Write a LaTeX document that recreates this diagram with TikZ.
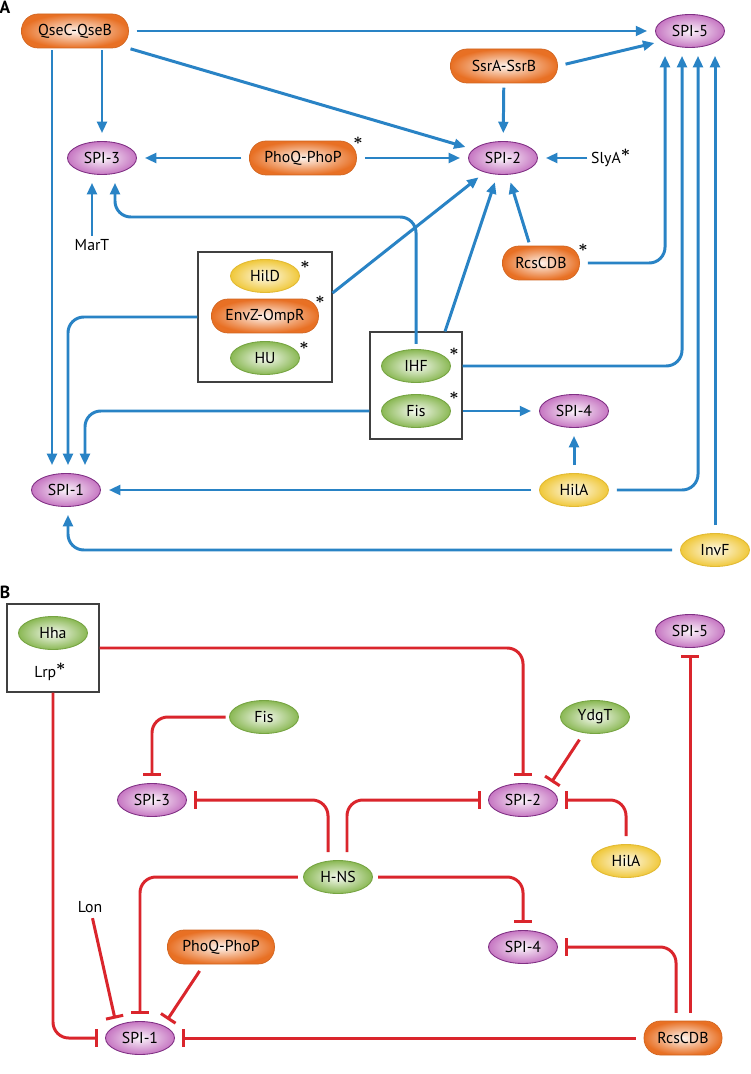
\documentclass[tikz,border=0pt]{standalone}
\usepackage{fontspec}
\setmainfont{PT Sans}
\usepackage{amsmath,xcolor}
\definecolor{slblue}{RGB}{41,131,197}
\definecolor{slred}{RGB}{218,37,44}
\definecolor{slorange}{RGB}{232,112,36}
\definecolor{slpurple}{RGB}{198,118,194}
\definecolor{slpurpleline}{RGB}{128,48,132}
\definecolor{slgreen}{RGB}{138,184,84}
\definecolor{slgreenline}{RGB}{118,164,66}
\definecolor{slyellow}{RGB}{240,200,58}
\definecolor{slyellowline}{RGB}{226,186,52}
\usetikzlibrary{arrows.meta,positioning,shapes.geometric,calc}
\newcommand{\sigstar}{\raisebox{3.8pt}{$\boldsymbol\ast$}}

\begin{document}
\begin{tikzpicture}[x=0.02cm,y=-0.02cm,font=\fontsize{9}{11}\selectfont,
  spi/.style={ellipse,draw=slpurpleline,line width=0.5pt,inner color=slpurple!8,outer color=slpurple,minimum width=1.38cm,minimum height=0.66cm,inner sep=0pt},
  nap/.style={spi,draw=slgreenline,inner color=slgreen!8,outer color=slgreen},
  reg/.style={spi,draw=slyellowline,inner color=slyellow!10,outer color=slyellow},
  tcs/.style={rectangle,rounded corners=0.33cm,draw=slorange!90!black,line width=0.4pt,inner color=slorange!8,outer color=slorange,minimum width=2.14cm,minimum height=0.68cm,inner sep=0pt},
  grp/.style={draw=black!75,line width=0.6pt,inner sep=0pt},
  astk/.style={inner sep=0pt,font=\fontsize{9.5}{11}\selectfont},
  lbl/.style={inner sep=1pt},
  act/.style={slblue,line width=1.7pt,-{Triangle[length=6.5pt,width=5.5pt]},shorten >=4.5pt,shorten <=4.5pt,rounded corners=9pt},
  inh/.style={slred,line width=1.7pt,-{Bar[width=10pt]},shorten >=4pt,shorten <=4.5pt,rounded corners=9pt},
  panel/.style={font=\fontsize{10}{12}\selectfont\bfseries,inner sep=0pt}]
  \path[use as bounding box,fill=white] (0,0) rectangle (750,1074);

  % panel A: activation
  \node[panel] (lblA) at (5,7) {A};
  \node[tcs] (qsec) at (75,31) {QseC-QseB};
  \node[spi] (spi5) at (690,31) {SPI-5};
  \node[tcs] (ssrab) at (504,66) {SsrA-SsrB};
  \node[spi] (spi3) at (102,158) {SPI-3};
  \node[tcs] (phoq) at (303,158) {PhoQ-PhoP};
  \node[spi] (spi2) at (503,158) {SPI-2};
  \node[lbl,anchor=west] (slya) at (589,158) {SlyA\sigstar};
  \node[lbl] (mart) at (92,245) {MarT};
  \node[grp,minimum width=2.68cm,minimum height=2.6cm] (box1) at (265,317) {};
  \node[reg] (hild) at (265,276) {HilD};
  \node[tcs] (envz) at (265,316) {EnvZ-OmpR};
  \node[nap] (hu) at (265,358) {HU};
  \node[grp,minimum width=1.84cm,minimum height=2.14cm] (box2) at (416,385.5) {};
  \node[nap] (ihf) at (416,366) {IHF};
  \node[nap] (fisa) at (416,411) {Fis};
  \node[tcs,minimum width=1.54cm] (rcsa) at (541,263) {RcsCDB};
  \node[spi] (spi4) at (574,411) {SPI-4};
  \node[reg] (hila) at (574,490) {HilA};
  \node[spi] (spi1) at (66,490) {SPI-1};
  \node[reg] (invf) at (715,550) {InvF};
  \node[astk] (phoqst) at (358,141) {$\boldsymbol\ast$};
  \node[astk] (hildst) at (305,265) {$\boldsymbol\ast$};
  \node[astk] (envzst) at (320,300) {$\boldsymbol\ast$};
  \node[astk] (hust) at (304,346) {$\boldsymbol\ast$};
  \node[astk] (ihfst) at (454,352) {$\boldsymbol\ast$};
  \node[astk] (fisast) at (454,396) {$\boldsymbol\ast$};
  \node[astk] (rcsast) at (583,248) {$\boldsymbol\ast$};
  \coordinate (ihfbend) at (115,217);

  \draw[act] (qsec) -- (spi5);
  \draw[act,shorten <=1pt] (qsec.south -| spi3) -- (spi3);
  \draw[act,shorten <=1pt] ([xshift=-0.28cm]spi1.north |- qsec.south) -- ([xshift=-0.28cm]spi1.north);
  \draw[act,shorten <=1pt] (qsec.south east) -- (spi2);
  \draw[act] (ssrab.east) -- (spi5.200);
  \draw[act,shorten <=2.5pt] (ssrab) -- (spi2);
  \draw[act] (phoq) -- (spi3);
  \draw[act] (phoq) -- (spi2);
  \draw[act,shorten <=1pt] (slya) -- (spi2);
  \draw[act,shorten <=1pt] (mart) -- (mart |- spi3.south);
  \draw[act,shorten <=3pt] (ihf.north) |- (ihfbend) -- (ihfbend |- spi3.south);
  \draw[act,shorten <=0pt] ([yshift=0.48cm]box1.east) -- (spi2);
  \draw[act,shorten <=0pt] (box1.west) -| ([xshift=0.04cm]spi1.north);
  \draw[act,shorten <=0pt] (fisa -| box2.west) -| ([xshift=0.38cm]spi1.north);
  \draw[act,shorten <=0pt] ([xshift=0.58cm]box2.north) -- (spi2);
  \draw[act,shorten <=2pt] ([xshift=-0.22cm]rcsa.north) -- (spi2);
  \draw[act] (rcsa.east) -| ([xshift=-0.5cm]spi5.south);
  \draw[act,shorten <=0pt] (ihf -| box2.east) -| ([xshift=-0.16cm]spi5.south);
  \draw[act,shorten <=0pt] (fisa -| box2.east) -- (spi4);
  \draw[act] (hila) -- (spi4);
  \draw[act] (hila) -- (spi1);
  \draw[act] (hila.east) -| ([xshift=0.16cm]spi5.south);
  \draw[act] (invf) -- (invf |- spi5.south);
  \draw[act] (invf.west) -| ([xshift=0.04cm]spi1.south);

  % panel B: repression
  \node[panel] (lblB) at (5,592) {B};
  \node[grp,minimum width=1.84cm,minimum height=1.76cm] (hbox) at (53,648) {};
  \node[nap] (hha) at (53,633) {Hha};
  \node[lbl] (lrp) at (50,672) {Lrp\sigstar};
  \node[spi] (spi5b) at (690,631) {SPI-5};
  \node[nap] (fisb) at (264,717) {Fis};
  \node[nap] (ydgt) at (595,717) {YdgT};
  \node[spi] (spi3b) at (152,800) {SPI-3};
  \node[spi] (spi2b) at (523,800) {SPI-2};
  \node[nap] (hns) at (338,877) {H-NS};
  \node[reg] (hilab) at (626,861) {HilA};
  \node[lbl] (lon) at (90,907) {Lon};
  \node[tcs] (phoqb) at (221,947) {PhoQ-PhoP};
  \node[spi] (spi4b) at (523,947) {SPI-4};
  \node[spi] (spi1b) at (140,1038) {SPI-1};
  \node[tcs,minimum width=1.56cm] (rcsb) at (683,1038) {RcsCDB};

  \draw[inh,shorten <=0pt] (hbox.east) -| (spi2b.north);
  \draw[inh,shorten <=0pt] (hbox.south) |- (spi1b.west);
  \draw[inh,shorten <=2pt] (fisb.west) -| (spi3b.north);
  \draw[inh] (ydgt.235) -- (spi2b.north east);
  \draw[inh] ([xshift=-0.2cm]hns.north) |- (spi3b.east);
  \draw[inh] ([xshift=0.18cm]hns.north) |- (spi2b.west);
  \draw[inh] (hilab.north) |- (spi2b.east);
  \draw[inh,shorten <=3pt] (hns.west) -| (spi1b.north);
  \draw[inh,shorten <=3pt] (hns.east) -| (spi4b.north);
  \draw[inh,shorten <=2pt] (lon) -- (spi1b.152);
  \draw[inh] ([xshift=-0.34cm]phoqb.south) -- (spi1b.28);
  \draw[inh] (rcsb) -- (spi1b);
  \draw[inh] ([xshift=-0.14cm]rcsb.north) |- (spi4b.east);
  \draw[inh] (rcsb.north -| spi5b) -- (spi5b);
\end{tikzpicture}
\end{document}
